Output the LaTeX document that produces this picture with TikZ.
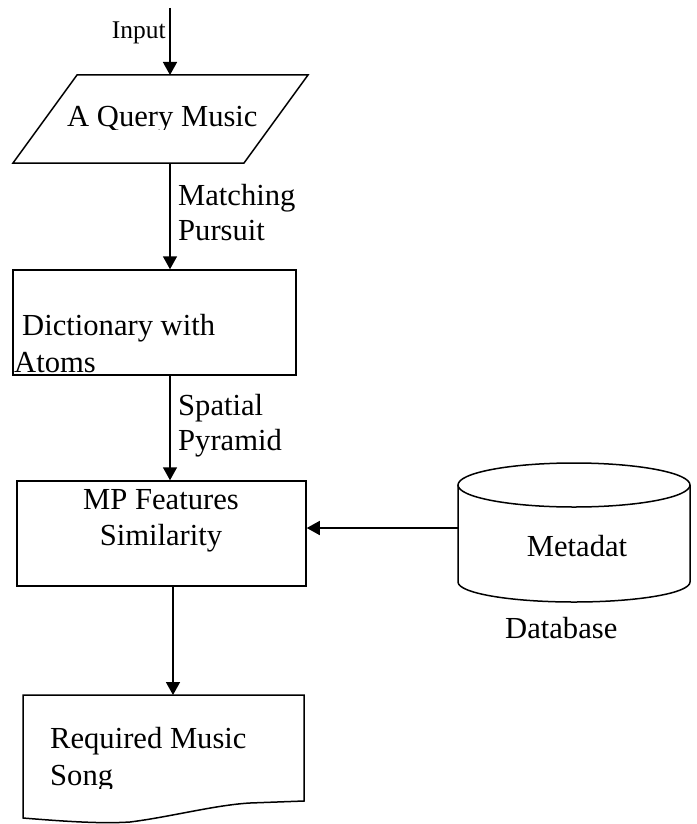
\documentclass[tikz,border=0pt]{standalone}
\usepackage{fontspec}
\setmainfont{Liberation Serif}
\usetikzlibrary{arrows.meta}
\tikzset{
  ln/.style={line width=1.5pt, line join=miter},
  arr/.style={ln, -{Triangle[length=13pt,width=14pt]}},
  boxnode/.style={draw, ln, rectangle, inner sep=0pt},
  txt/.style={inner sep=0pt, font=\fontsize{30.6}{35}\selectfont},
  smalltxt/.style={inner sep=0pt, font=\fontsize{25.5}{30}\selectfont},
}
\begin{document}
\begin{tikzpicture}[x=1pt,y=-1pt]
\useasboundingbox (0,0) rectangle (696,824);
\fill[white] (0,0) rectangle (696,824);

% parallelogram
\draw[ln] (77,75) -- (308,75) -- (244,163) -- (13,163) -- cycle;
\coordinate (qtop) at (170,75);
\coordinate (qbot) at (170,163);
\coordinate (instart) at (170,8);
\begin{scope}
  \clip (0,60) rectangle (320,130);
  \node[txt, anchor=base west] (qtext) at (67,127) {A Query Music};
\end{scope}
\node[smalltxt, anchor=base east] (inlab) at (166,39) {Input};

% dictionary box
\node[boxnode, minimum width=283pt, minimum height=105pt] (dict) at (154.5,322.5) {};
\begin{scope}
  \clip (0,270) rectangle (320,374);
  \node[txt, anchor=base west] (dtext1) at (22,335) {Dictionary with};
  \node[txt, anchor=base west] (dtext2) at (14,372) {Atoms};
\end{scope}

% MP box
\node[boxnode, minimum width=289pt, minimum height=105pt] (mp) at (161.5,533.5) {};
\node[txt, anchor=base] (mp1) at (161,509) {MP Features};
\node[txt, anchor=base] (mp2) at (161,545) {Similarity};

% cylinder
\draw[ln] (574,485) ellipse [x radius=116pt, y radius=22pt];
\draw[ln] (458,485) -- (458,582) arc[start angle=180, end angle=360, x radius=116pt, y radius=20pt] -- (690,485);
\coordinate (dbw) at (458,528);
\node[txt, anchor=base] (meta) at (577,556) {Metadat};
\node[txt, anchor=base west] (dbl) at (505,638) {Database};

% document shape
\draw[ln] (23,695) -- (304,695) -- (304,801) -- (250,803)
  .. controls (215,805) and (170,817) .. (130,822)
  .. controls (100,824) and (60,821) .. (23,818) -- cycle;
\coordinate (doctop) at (173,695);
\begin{scope}
  \clip (23,700) rectangle (304,788);
  \node[txt, anchor=base west] (r1) at (50,748) {Required Music};
  \node[txt, anchor=base west] (r2) at (50,785) {Song};
\end{scope}

% edge labels
\node[txt, anchor=base west] (l1) at (178,205) {Matching};
\node[txt, anchor=base west] (l2) at (178,240) {Pursuit};
\node[txt, anchor=base west] (l3) at (178,415) {Spatial};
\node[txt, anchor=base west] (l4) at (178,450) {Pyramid};

% connectors
\draw[arr] (instart) -- (qtop);
\draw[arr] (qbot) -- (dict.north -| qbot);
\draw[arr] (dict.south -| qbot) -- (mp.north -| qbot);
\draw[arr] (mp.south -| doctop) -- (doctop);
\draw[arr] (dbw) -- (dbw -| mp.east);
\end{tikzpicture}
\end{document}
